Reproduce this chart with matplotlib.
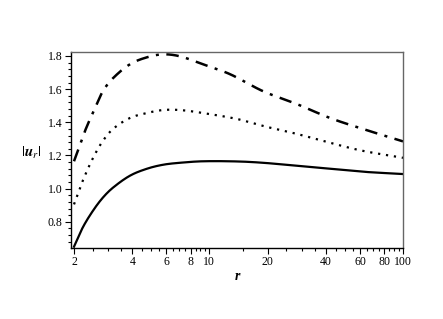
import numpy as np
import matplotlib
matplotlib.use("Agg")
import matplotlib.pyplot as plt
from matplotlib.ticker import FixedLocator, FixedFormatter, NullFormatter

# data
r_dd = [2.0, 2.28, 2.57, 2.82, 3.18, 3.89, 4.76, 5.76, 7.05, 9.27, 12.8, 18.9, 28.3, 42, 62, 100]
u_dd = [1.165, 1.348, 1.486, 1.588, 1.666, 1.75, 1.792, 1.81, 1.798, 1.75, 1.69, 1.588, 1.51, 1.426, 1.36, 1.285]

r_dot = [2.0, 2.22, 2.51, 2.82, 3.18, 3.89, 4.76, 5.76, 7.05, 9.27, 13.9, 18.9, 28.3, 42, 62, 100]
u_dot = [0.905, 1.048, 1.186, 1.288, 1.36, 1.426, 1.456, 1.474, 1.474, 1.456, 1.42, 1.378, 1.33, 1.276, 1.228, 1.186]

r_sol = [2.0, 2.22, 2.51, 2.82, 3.18, 3.89, 4.76, 5.76, 7.05, 9.27, 13.9, 18.9, 28.3, 42, 62, 100]
u_sol = [0.65, 0.766, 0.868, 0.946, 1.006, 1.078, 1.12, 1.144, 1.156, 1.165, 1.164, 1.156, 1.138, 1.12, 1.102, 1.088]

xticks = [2, 4, 6, 8, 10, 20, 40, 60, 80, 100]
xticklabels = ["2", "4", "6", "8", "10", "20", "40", "60", "80", "100"]
yticks = [0.8, 1.0, 1.2, 1.4, 1.6, 1.8]
yticklabels = ["0.8", "1.0", "1.2", "1.4", "1.6", "1.8"]

plt.rcParams['font.family'] = ['Liberation Serif', 'DejaVu Serif']
plt.rcParams['mathtext.fontset'] = 'stix'

fig = plt.figure(figsize=(4.43, 3.19), dpi=100)
ax = fig.add_axes([71/443, 1-248/319, (403-71)/443, (248-52)/319])

def smooth(x, y):
    lx = np.log(np.array(x, float))
    xs = np.linspace(lx[0], lx[-1], 400)
    ys = np.empty_like(xs)
    yv = np.array(y, float)
    n = len(lx)
    m = np.zeros(n)
    for i in range(n):
        if i == 0:
            m[i] = (yv[1]-yv[0])/(lx[1]-lx[0])
        elif i == n-1:
            m[i] = (yv[-1]-yv[-2])/(lx[-1]-lx[-2])
        else:
            m[i] = (yv[i+1]-yv[i-1])/(lx[i+1]-lx[i-1])
    for k, xv in enumerate(xs):
        i = min(np.searchsorted(lx, xv, side='right')-1, n-2)
        h = lx[i+1]-lx[i]
        t = (xv-lx[i])/h
        h00 = 2*t**3-3*t**2+1; h10 = t**3-2*t**2+t
        h01 = -2*t**3+3*t**2; h11 = t**3-t**2
        ys[k] = h00*yv[i]+h10*h*m[i]+h01*yv[i+1]+h11*h*m[i+1]
    return np.exp(xs), ys

x1, y1 = smooth(r_dd, u_dd)
x2, y2 = smooth(r_dot, u_dot)
x3, y3 = smooth(r_sol, u_sol)

ax.plot(x1, y1, color='black', lw=1.8, dashes=(5, 3, 1.2, 3))
ax.plot(x2, y2, color='black', lw=1.6, dashes=(1, 2.6))
ax.plot(x3, y3, color='black', lw=1.6, linestyle='-')

ax.set_xscale('log')
ax.set_xlim(1.93, 100)
ax.set_ylim(0.642, 1.824)

ax.xaxis.set_major_locator(FixedLocator(xticks))
ax.xaxis.set_major_formatter(FixedFormatter(xticklabels))
minor_x = [v for v in np.arange(2.5, 10, 0.5) if v not in xticks] + \
          [v for v in range(15, 100, 5) if v not in xticks]
ax.xaxis.set_minor_locator(FixedLocator(minor_x))
ax.xaxis.set_minor_formatter(NullFormatter())

ax.yaxis.set_major_locator(FixedLocator(yticks))
ax.yaxis.set_major_formatter(FixedFormatter(yticklabels))
ax.yaxis.set_minor_locator(FixedLocator([v for v in np.arange(0.68, 1.82, 0.04) if min(abs(v - t) for t in yticks) > 0.01]))

ax.tick_params(which='both', direction='out', top=False, right=False, labelsize=8.5, pad=2, width=0.8, color='black')
ax.tick_params(which='major', length=4)
ax.tick_params(which='minor', length=2)

for s in ax.spines.values():
    s.set_color('#666666')
    s.set_linewidth(1.0)
ax.spines['bottom'].set_color('black')
ax.spines['left'].set_color('black')

ax.set_xlabel('r', fontsize=10, fontstyle='italic', fontweight='bold', labelpad=1)
fig.text(31/443, 1-153/319, r'$|\boldsymbol{u}_r|$', fontsize=11, ha='center', va='center')

fig.savefig('out.png', dpi=100)
